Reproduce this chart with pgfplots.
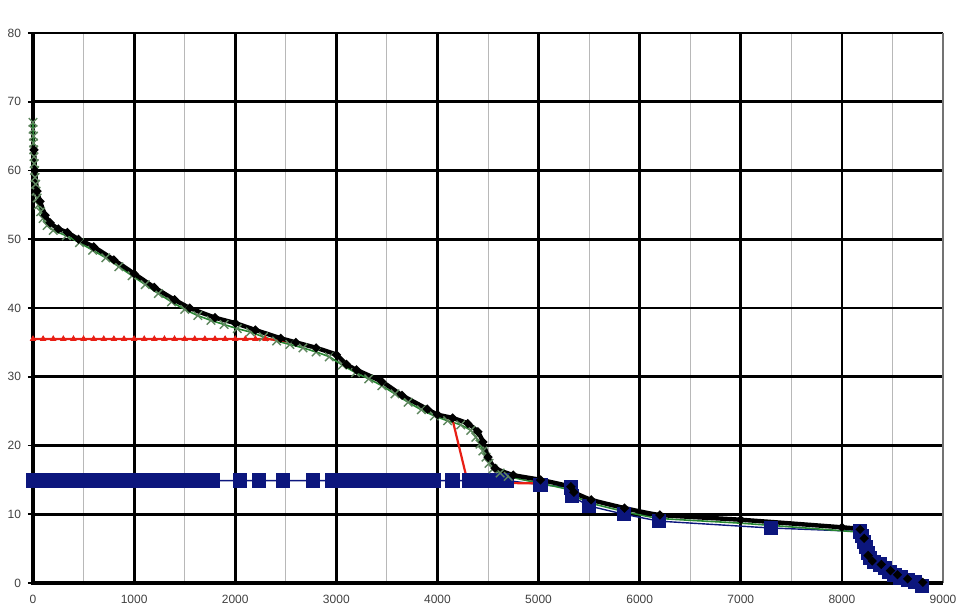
\documentclass[border=0pt]{standalone}
\usepackage{fontspec}
\setmainfont{Liberation Sans}
\usepackage{pgfplots}
\pgfplotsset{compat=1.18}
\definecolor{navyb}{RGB}{12,22,125}
\definecolor{grn}{RGB}{40,135,50}
\definecolor{grnx}{RGB}{95,135,95}
\definecolor{redl}{RGB}{232,30,20}

\begin{document}
\begin{tikzpicture}
\begin{axis}[
  name=ax, scale only axis, width=455pt, height=275pt,
  xmin=0, xmax=9000, ymin=0, ymax=80,
  xtick={0,1000,...,8000},
  extra x ticks={9000},
  extra x tick style={grid=none},
  minor xtick={500,1500,...,8500},
  ytick={0,10,...,80},
  xmajorgrids, ymajorgrids, xminorgrids,
  major grid style={black, line width=1.4pt},
  minor grid style={black!28, line width=0.5pt},
  axis line style={draw=none},
  xtick style={draw=none},
  ytick pos=left,
  ytick style={black, line width=0.8pt},
  tick align=outside, major tick length=2.5pt, minor tick length=0pt,
  tick label style={font=\fontsize{6}{7}\selectfont, text=black!75},
  /pgf/number format/assume math mode=true,
  /pgf/number format/1000 sep={},
  scaled x ticks=false,
  clip=false,
]
% frame
\draw[black!55, line width=0.9pt] (rel axis cs:1,0) -- (rel axis cs:1,1);
\draw[black, line width=2pt] (rel axis cs:0,1) -- (rel axis cs:0,0) -- (rel axis cs:1,0);

% blue squares
\addplot[navyb, line width=0.7pt, mark=square*, mark size=3.2pt,
  mark options={fill=navyb}] coordinates {
  (0,14.9) (100,14.9) (200,14.9) (300,14.9) (400,14.9) (500,14.9) (600,14.9)
  (700,14.9) (800,14.9) (900,14.9) (1000,14.9) (1100,14.9) (1200,14.9)
  (1300,14.9) (1400,14.9) (1500,14.9) (1600,14.9) (1700,14.9)
  (1782,14.9) (2050,14.9) (2238,14.9) (2475,14.9) (2772,14.9) (2960,14.9)
  (3040,14.9) (3120,14.9) (3190,14.9) (3287,14.9) (3420,14.9) (3500,14.9)
  (3580,14.9) (3660,14.9) (3740,14.9) (3820,14.9) (3900,14.9) (3960,14.9)
  (4149,14.9) (4310,14.9) (4390,14.9) (4470,14.9) (4550,14.9) (4620,14.9)
  (4690,14.9)
  (5020,14.3) (5317,13.9) (5330,12.6) (5500,11.2) (5845,10.0) (6190,9.0)
  (7297,8.0) (8180,7.5) (8200,6.8) (8220,6.0) (8240,5.2) (8260,4.4)
  (8280,3.6) (8320,3.0) (8380,2.7) (8430,2.2) (8470,1.6) (8520,1.2)
  (8580,0.8) (8650,0.4) (8720,0.1) (8790,-0.4)
};

% green line
\addplot[grn, line width=0.8pt, mark=none, smooth, tension=0.3] coordinates {
  (0,67) (0,66) (5,65) (5,64) (8,63) (10,62) (12,61) (15,60) (20,59) (25,58)
  (30,57) (40,56) (55,55) (75,54) (100,53) (140,52) (200,51.3) (330,50.5)
  (460,49.5) (590,48.4) (720,47.3) (850,46) (980,44.7) (1110,43.4)
  (1240,42.1) (1370,40.9) (1500,39.8) (1630,38.9) (1760,38.2) (1890,37.6)
  (2020,37.0) (2150,36.5) (2280,35.8) (2410,35.2) (2540,34.7) (2670,34.2)
  (2800,33.6) (2930,32.9) (3060,31.7) (3190,30.6) (3320,29.7) (3450,28.7)
  (3580,27.5) (3710,26.3) (3840,25.2) (3970,24.3) (4100,23.6) (4230,23.0)
  (4330,22.2) (4380,21.2) (4420,20.2) (4450,19.2) (4480,18.3) (4510,17.4)
  (4550,16.6) (4620,16.0) (4700,15.5) (4850,15.0) (5020,14.5) (5320,13.5)
  (5350,12.7) (5520,11.6) (5850,10.4) (6200,9.4) (7000,8.7) (8000,7.6)
  (8180,7.3) (8220,6.1) (8260,3.7) (8300,2.9) (8390,2.3) (8480,1.5)
  (8550,0.9) (8650,0.3) (8800,-0.2)
};
% green crosses
\addplot[only marks, grnx, mark=x, mark size=3pt, line width=0.7pt] coordinates {
  (0,67) (0,66) (5,65) (5,64) (8,63) (10,62) (12,61) (15,60) (20,59) (25,58)
  (30,57) (40,56) (55,55) (75,54) (100,53) (140,52) (200,51.3) (330,50.5)
  (460,49.5) (590,48.4) (720,47.3) (850,46) (980,44.7) (1110,43.4)
  (1240,42.1) (1370,40.9) (1500,39.8) (1630,38.9) (1760,38.2) (1890,37.6)
  (2020,37.0) (2150,36.5) (2280,35.8) (2410,35.2) (2540,34.7) (2670,34.2)
  (2800,33.6) (2930,32.9) (3060,31.7) (3190,30.6) (3320,29.7) (3450,28.7)
  (3580,27.5) (3710,26.3) (3840,25.2) (3970,24.3) (4100,23.6) (4230,23.0)
  (4330,22.2) (4380,21.2) (4420,20.2) (4450,19.2) (4480,18.3) (4510,17.4)
  (4550,16.6) (4620,16.0) (4700,15.5)
};

% red line
\addplot[redl, line width=1.1pt, mark=none] coordinates {
  (0,35.5) (2300,35.5) (2450,35.3) (2600,34.9) (2800,34.2) (3000,33.2)
  (3100,31.8) (3200,31.0) (3450,29.3) (3650,27.3) (3900,25.3) (4000,24.5)
  (4150,23.7) (4300,14.6) (4950,14.5) (5020,15.0)
};
\addplot[only marks, redl, mark=triangle*, mark size=1.5pt] coordinates {
  (0,35.5) (100,35.5) (200,35.5) (300,35.5) (400,35.5) (500,35.5) (600,35.5)
  (700,35.5) (800,35.5) (900,35.5) (1000,35.5) (1100,35.5) (1200,35.5)
  (1300,35.5) (1400,35.5) (1500,35.5) (1600,35.5) (1700,35.5) (1800,35.5)
  (1900,35.5) (2000,35.5) (2100,35.5) (2200,35.5) (2300,35.5)
};

% black line
\addplot[black, line width=2.2pt, mark=*, mark size=0.8pt, smooth, tension=0.3] coordinates {
  (10,63) (20,60) (40,57) (70,55.5) (120,53.5) (170,52.4) (250,51.5)
  (340,51) (450,50) (600,48.9) (800,47) (1000,45) (1200,43) (1400,41.2)
  (1550,40) (1800,38.6) (2000,37.8) (2200,36.8) (2450,35.6) (2600,35)
  (2800,34.2) (3000,33.2) (3100,31.8) (3200,31) (3450,29.3) (3650,27.3)
  (3900,25.3) (4000,24.5) (4150,24) (4300,23.2) (4400,22) (4450,20.5)
  (4500,18.3) (4570,16.7) (4750,15.7) (5020,15.0) (5320,14.0) (5350,13.2)
  (5520,12.1) (5850,10.9) (6200,9.9) (7000,9.2) (8000,8.1) (8180,7.8)
  (8220,6.5) (8260,4) (8300,3.2) (8390,2.7) (8480,1.8) (8550,1.2)
  (8650,0.6) (8800,0.1)
};
\end{axis}
\pgfresetboundingbox
\path (ax.south west) ++(-16.5pt,-14pt) coordinate (bl);
\path (ax.north east) ++(6.5pt,16.5pt) coordinate (tr);
\path (bl) rectangle (tr);
\end{tikzpicture}
\end{document}
